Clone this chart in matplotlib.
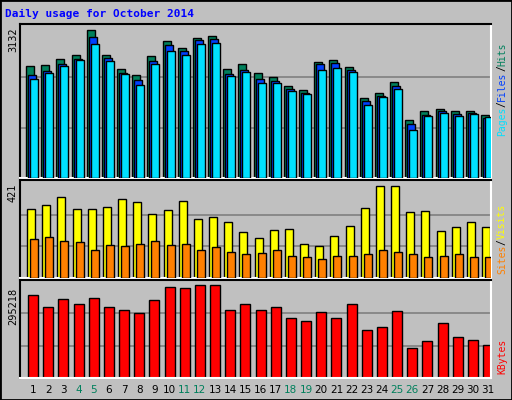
import matplotlib
matplotlib.use("Agg")
import matplotlib.pyplot as plt
from matplotlib.patches import Rectangle

days = list(range(1, 32))
weekend = [4, 5, 11, 12, 18, 19, 25, 26]
hits = [2321,2342,2466,2548,3063,2548,2260,2136,2527,2836,2692,2898,2940,2260,2363,2177,
        2095,1909,1827,2404,2445,2301,1662,1765,1992,1209,1394,1435,1394,1394,1312]
files = [2136,2218,2363,2466,2919,2486,2177,2033,2424,2754,2630,2857,2878,2157,2239,2054,
         2012,1847,1765,2363,2383,2239,1600,1703,1909,1126,1312,1394,1332,1353,1250]
pages = [2054,2177,2321,2445,2775,2424,2157,1930,2363,2630,2548,2775,2795,2115,2198,1971,
         1971,1806,1744,2239,2280,2198,1518,1683,1847,1003,1291,1353,1291,1332,1271]
visits = [307,324,358,307,307,315,350,337,285,302,341,263,272,250,203,177,
          212,216,151,142,186,229,311,406,406,294,298,207,224,246,224]
sites = [173,181,164,160,125,147,142,151,164,147,151,125,138,117,108,112,
         125,99,95,82,99,99,104,125,117,104,95,99,104,95,95]
kbytes = [253470,214700,241540,226630,244520,214700,205760,196810,238560,277330,274340,
          283290,283290,205760,223650,205760,214700,181900,172960,199790,181900,223650,
          146120,155060,202780,92440,113320,166990,125240,116300,101390]
top_max, mid_max, bot_max = 3132, 421, 295218

W, H = 512, 400
fig = plt.figure(figsize=(W/100, H/100), dpi=100)
fig.patch.set_facecolor("#C0C0C0")
fig.add_artist(Rectangle((0, 0), 1, 1, transform=fig.transFigure, fill=False,
                         edgecolor="black", lw=2))

PX = 15.17
def px2d(p):
    return 1 + (p - 33) / PX
xl = (px2d(20), px2d(491))

def mkax(top, bottom):
    ax = fig.add_axes([20/W, 1 - bottom/H, (491-20)/W, (bottom-top)/H])
    ax.set_facecolor("#C0C0C0")
    ax.set_xlim(*xl)
    ax.set_xticks([]); ax.set_yticks([])
    for s in ["left", "top"]:
        ax.spines[s].set_color("black"); ax.spines[s].set_linewidth(1.5)
    for s in ["right", "bottom"]:
        ax.spines[s].set_color("white"); ax.spines[s].set_linewidth(1.5)
    return ax

w = 8 / PX
ec = dict(edgecolor="black", linewidth=1)

ax1 = mkax(24, 178)
ax1.set_ylim(0, top_max * 1.02)
for f in (1/3, 2/3):
    ax1.axhline(top_max * f, color="#808080", lw=1.2, zorder=0)
x = [d - 7/PX for d in days]
ax1.bar(x, hits, width=w, align="edge", color="#00805C", zorder=2, **ec)
ax1.bar([v + 2/PX for v in x], files, width=w, align="edge", color="#0040FF", zorder=3, **ec)
ax1.bar([v + 4/PX for v in x], pages, width=w, align="edge", color="#00E0FF", zorder=4, **ec)

ax2 = mkax(180, 278)
ax2.set_ylim(0, mid_max * 1.03)
for f in (1/3, 2/3):
    ax2.axhline(mid_max * f, color="#808080", lw=1.2, zorder=0)
x = [d - 6/PX for d in days]
ax2.bar(x, visits, width=w, align="edge", color="#FFFF00", zorder=2, **ec)
ax2.bar([v + 3/PX for v in x], sites, width=w, align="edge", color="#FF8000", zorder=3, **ec)

ax3 = mkax(280, 378)
ax3.set_ylim(0, bot_max * 1.01)
for f in (1/3, 2/3):
    ax3.axhline(bot_max * f, color="#808080", lw=1.2, zorder=0)
ax3.bar(days, kbytes, width=10/PX, color="#FF0000", zorder=2, **ec)

for d in days:
    ax3.text(d, -0.12, str(d), transform=ax3.get_xaxis_transform(), ha="center", va="center",
             fontsize=7.5, color="#00805C" if d in weekend else "black")

fig.text(5/W, 1 - 14/H, "Daily usage for October 2014", color="#0000FF",
         fontsize=8, fontweight="bold", family="DejaVu Sans Mono", va="center")
fig.text(13/W, 1 - 40/H, "3132", rotation=90, fontsize=7, ha="center", va="center")
fig.text(13/W, 1 - 193/H, "421", rotation=90, fontsize=7, ha="center", va="center")
fig.text(13/W, 1 - 306/H, "295218", rotation=90, fontsize=7, ha="center", va="center")

fig.canvas.draw()
renderer = fig.canvas.get_renderer()

def vlabel(ypx, parts):
    y = ypx
    for txt, col in parts:
        t = fig.text(502/W, 1 - y/H, txt, rotation=90, fontsize=7, color=col,
                     family="DejaVu Sans Mono", ha="center", va="bottom")
        bb = t.get_window_extent(renderer)
        y -= bb.height
vlabel(136, [("Pages", "#00E0FF"), ("/", "black"), ("Files", "#0040FF"),
             ("/", "black"), ("Hits", "#00805C")])
vlabel(274, [("Sites", "#FF8000"), ("/", "black"), ("Visits", "#FFFF00")])
vlabel(374, [("KBytes", "#FF0000")])

fig.savefig("out.png", dpi=100, facecolor=fig.get_facecolor())
